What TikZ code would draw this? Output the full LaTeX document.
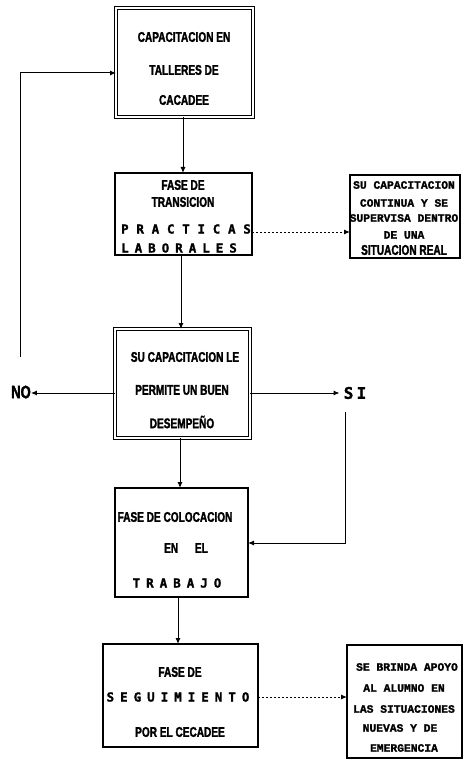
\documentclass[tikz,border=0pt]{standalone}
\usepackage{fontspec}
\usetikzlibrary{arrows.meta}
\newfontfamily\condf[FakeStretch=0.72,FakeBold=1.8]{Liberation Sans Bold}
\newfontfamily\monof[FakeBold=1.5]{Liberation Mono Bold}
\newfontfamily\wideA[LetterSpace=62,FakeBold=1.5]{DejaVu Sans Mono Bold}
\newfontfamily\wideB[LetterSpace=48,FakeBold=1.5]{DejaVu Sans Mono Bold}
\newfontfamily\wideC[LetterSpace=20,FakeBold=1.5]{DejaVu Sans Mono Bold}
\begin{document}
\begin{tikzpicture}[x=1pt,y=-1pt,
  dbox/.style={draw, line width=0.9pt, double=white, double distance=2pt, inner sep=0pt, outer sep=0pt},
  tbox/.style={draw, line width=2.8pt, inner sep=0pt, outer sep=0pt},
  nbox/.style={draw, line width=1.2pt, inner sep=0pt, outer sep=0pt},
  ct/.style={inner sep=0pt, font=\condf\fontsize{14}{14}\selectfont},
  mt/.style={inner sep=0pt, font=\monof\fontsize{11.3}{11.3}\selectfont},
  wt/.style={inner sep=0pt, font=\wideA\fontsize{12.5}{12.5}\selectfont},
  wtb/.style={inner sep=0pt, font=\wideB\fontsize{12.5}{12.5}\selectfont},
  arr/.style={line width=1pt, -{Latex[length=6pt,width=5pt]}},
  darr/.style={line width=1pt, dash pattern=on 2pt off 2pt, -{Latex[length=6pt,width=5pt]}}
]
\useasboundingbox (0,0) rectangle (464,759);
% boxes
\node[dbox, minimum width=137pt, minimum height=109pt] (b1) at (184.5,62.5) {};
\node[tbox, minimum width=137pt, minimum height=82pt] (b2) at (183.5,214) {};
\node[nbox, minimum width=110pt, minimum height=83pt] (r1) at (405,216.5) {};
\node[dbox, minimum width=135pt, minimum height=109pt] (b3) at (182.5,383.5) {};
\node[tbox, minimum width=133pt, minimum height=109pt] (b4) at (181.5,542.5) {};
\node[tbox, minimum width=155pt, minimum height=103pt] (b5) at (180.5,695.5) {};
\node[nbox, minimum width=115pt, minimum height=113pt] (r2) at (404.5,701.5) {};
% texts box 1
\node[ct] (t11) at (184,37) {CAPACITACION EN};
\node[ct] (t12) at (184,70) {TALLERES DE};
\node[ct] (t13) at (184,100) {CACADEE};
% box 2
\node[ct] (t21) at (183,185) {FASE DE};
\node[ct] (t22) at (183,202) {TRANSICION};
\node[wt] (t23) at (186,229) {PRACTICAS};
\node[wtb] (t24) at (179,248) {LABORALES};
% right box 1
\node[mt] (r11) at (404,185) {SU CAPACITACION};
\node[mt] (r12) at (404,203) {CONTINUA Y SE};
\node[mt] (r13) at (404,218) {SUPERVISA DENTRO};
\node[mt] (r14) at (404,235) {DE UNA};
\node[ct] (r15) at (404,250) {SITUACION REAL};
% box 3
\node[ct] (t31) at (185,357) {SU CAPACITACION LE};
\node[ct] (t32) at (182,390) {PERMITE UN BUEN};
\node[ct] (t33) at (182,422) {DESEMPE\~NO};
% NO / SI
\node[inner sep=0pt, font=\condf\fontsize{18}{18}\selectfont] (no) at (21,392) {NO};
\node[inner sep=0pt, font=\wideC\fontsize{16}{16}\selectfont] (si) at (355,393) {SI};
% box 4
\node[ct] (t41) at (175,517) {FASE DE COLOCACION};
\node[ct] (t42) at (186,548) {EN\quad\ EL};
\node[wtb] (t43) at (177,583) {TRABAJO};
% box 5
\node[ct] (t51) at (180,672) {FASE DE};
\node[wtb] (t52) at (178,697) {SEGUIMIENTO};
\node[ct] (t53) at (180,732) {POR EL CECADEE};
% right box 2
\node[mt] (r21) at (407,667) {SE BRINDA APOYO};
\node[mt] (r22) at (404,688) {AL ALUMNO EN};
\node[mt] (r23) at (404,709) {LAS SITUACIONES};
\node[mt] (r24) at (400,728) {NUEVAS Y DE};
\node[mt] (r25) at (404,748) {EMERGENCIA};
% helper coordinates
\coordinate (y2) at (0,232);
\coordinate (y3) at (0,393);
\coordinate (ls) at (20,357);
\coordinate (lt) at (0,73);
\coordinate (ss) at (345,412);
\coordinate (st) at (0,543);
\coordinate (y5) at (0,697);
% connectors
\draw[arr] (b1.south -| 183,0) -- (b2.north -| 183,0);
\draw[arr] (b2.south -| 181,0) -- (b3.north -| 181,0);
\draw[arr] (b3.south -| 180,0) -- (b4.north -| 180,0);
\draw[arr] (b4.south -| 178,0) -- (b5.north -| 178,0);
\draw[darr] (b2.east |- y2) -- (r1.west |- y2);
\draw[darr] (b5.east |- y5) -- (r2.west |- y5);
\draw[arr] (b3.west |- y3) -- (no.east |- y3);
\draw[arr] (b3.east |- y3) -- ([xshift=-4pt]si.west |- y3);
\draw[arr] (ls) |- (b1.west |- lt);
\draw[arr] (ss) |- (b4.east |- st);
\end{tikzpicture}
\end{document}
